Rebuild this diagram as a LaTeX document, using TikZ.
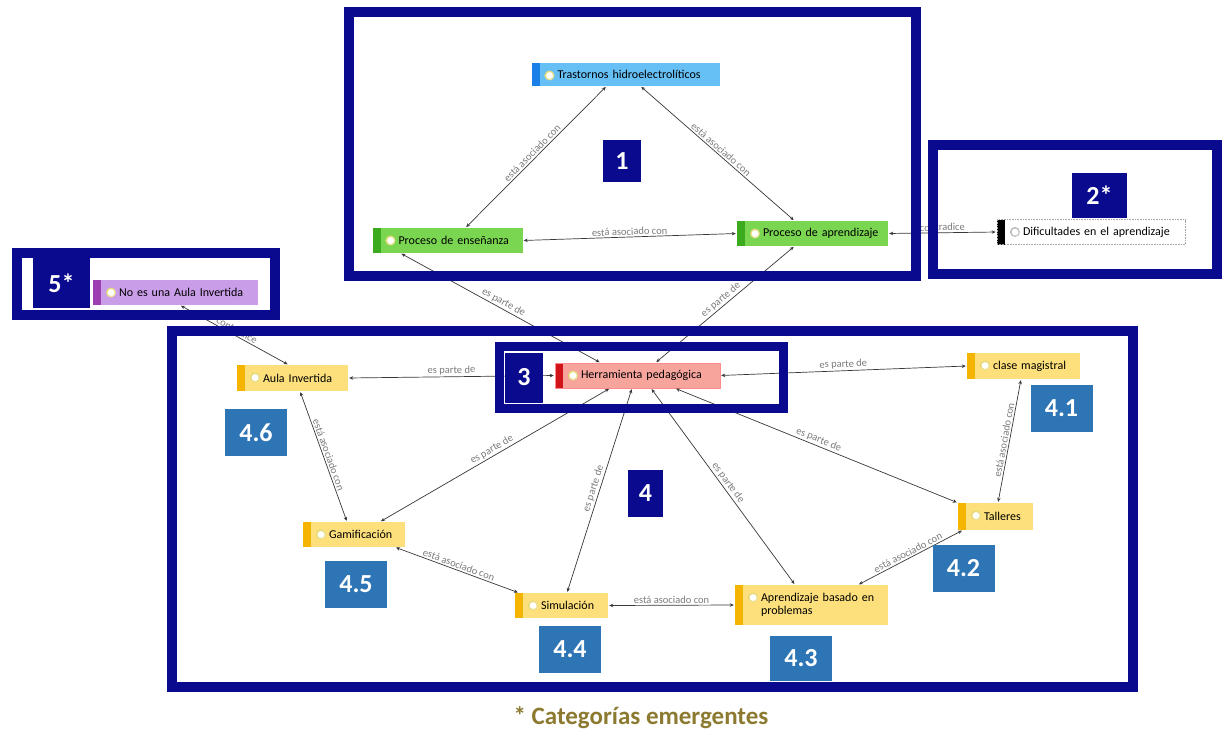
\documentclass[tikz,border=0pt]{standalone}
\usepackage{fontspec}
\setmainfont{Carlito}
\usetikzlibrary{arrows.meta}

\definecolor{framenavy}{HTML}{0A0A8E}
\definecolor{numblue}{HTML}{2E75B6}
\definecolor{trastfill}{HTML}{66BFF5}
\definecolor{trastbar}{HTML}{1A7FE6}
\definecolor{greenfill}{HTML}{7AD651}
\definecolor{greenbar}{HTML}{3BAA1F}
\definecolor{purplefill}{HTML}{C99DE8}
\definecolor{purplebar}{HTML}{9B3FB3}
\definecolor{salmonfill}{HTML}{F6A49C}
\definecolor{redbar}{HTML}{D0141A}
\definecolor{yellowfill}{HTML}{FDE07C}
\definecolor{yellowbar}{HTML}{F4B400}
\definecolor{captioncol}{HTML}{8C7A30}
\definecolor{linecol}{HTML}{383838}
\definecolor{labelcol}{HTML}{7C7C7C}
\definecolor{iconglow}{HTML}{E3D873}

% code text: every line starts after the colour bar and the icon
\newcommand\codetext[1]{\hangindent=26pt\hangafter=0\hyphenpenalty=10000\relax #1\par}

\tikzset{
  iconring/.initial=iconglow,
  code/.style n args={3}{rectangle, fill=#1, text width=#3, minimum width=#3,
    minimum height=25pt, inner xsep=0pt, inner ysep=2pt, align=left, text=black,
    font=\fontsize{12}{13}\selectfont,
    path picture={
      \fill[#2] (path picture bounding box.north west) rectangle
        ([xshift=8pt]path picture bounding box.south west);
      \shade[inner color=white, outer color=\pgfkeysvalueof{/tikz/iconring}]
        ([xshift=18pt,yshift=-12.5pt]path picture bounding box.north west) circle (5pt);
      \fill[white] ([xshift=18pt,yshift=-12.5pt]path picture bounding box.north west) circle (3.3pt);
    }},
  link/.style={draw=linecol, line width=0.7pt, shorten >=1pt, shorten <=1pt,
    arrows={Stealth[length=4pt,width=3.5pt]-Stealth[length=4pt,width=3.5pt]}},
  rel/.style={midway, sloped, above, font=\fontsize{10.5}{12}\selectfont,
    text=labelcol, inner sep=1.5pt},
  frame/.style={draw=framenavy, line width=10pt},
  tag/.style={fill=framenavy, text=white, inner sep=0pt,
    font=\fontsize{26}{28}\selectfont\bfseries},
  subtag/.style={tag, fill=numblue, minimum width=62pt, minimum height=47pt},
}

\begin{document}
\begin{tikzpicture}[x=1pt,y=-1pt]
\useasboundingbox[fill=white] (0,0) rectangle (1227,736);

% ---- codes ----
\node[code={trastfill}{trastbar}{188pt}, minimum height=23pt] (trast) at (625.5,74.5)
  {\codetext{Trastornos hidroelectrolíticos}};
\node[code={greenfill}{greenbar}{150pt}] (ens) at (447.5,240.5)
  {\codetext{Proceso de enseñanza}};
\node[code={greenfill}{greenbar}{151pt}] (apr) at (812.5,233.5)
  {\codetext{Proceso de aprendizaje}};
\node[code={white}{black}{188pt}, iconring=gray!60, draw=gray!70, densely dotted,
  line width=0.6pt] (dif) at (1091,232)
  {\codetext{Dificultades en el aprendizaje}};
\node[code={purplefill}{purplebar}{165pt}] (noes) at (175.5,292.5)
  {\codetext{No es una Aula Invertida}};
\node[code={salmonfill}{redbar}{165pt}, draw=red!45, line width=0.5pt] (herr) at (637.5,375.5)
  {\codetext{Herramienta pedagógica}};
\node[code={yellowfill}{yellowbar}{111pt}, minimum height=26pt] (aula) at (292.5,378)
  {\codetext{Aula Invertida}};
\node[code={yellowfill}{yellowbar}{113pt}, minimum height=26pt] (clase) at (1023.5,366)
  {\codetext{clase magistral}};
\node[code={yellowfill}{yellowbar}{102pt}] (gam) at (354,534.5)
  {\codetext{Gamificación}};
\node[code={yellowfill}{yellowbar}{93pt}] (sim) at (561.5,605.5)
  {\codetext{Simulación}};
\node[code={yellowfill}{yellowbar}{153pt}, minimum height=40pt] (apb) at (811.5,605)
  {\codetext{Aprendizaje basado en problemas}};
\node[code={yellowfill}{yellowbar}{75pt}, minimum height=27pt] (tal) at (995.5,516.5)
  {\codetext{Talleres}};

% ---- relations ----
\draw[link] ([xshift=-19pt]trast.south) -- ([xshift=18pt]ens.north)
  node[rel] {está asociado con};
\draw[link] ([xshift=15pt]trast.south) -- ([xshift=-18pt]apr.north)
  node[rel] {está asociado con};
\draw[link] (ens.east) -- (apr.west) node[rel] {está asociado con};
\draw[link] (apr.east) -- (dif.west) node[rel] {contradice};
\draw[link] ([xshift=-47pt]ens.south) -- ([xshift=-37pt]herr.north)
  node[rel] {es parte de};
\draw[link] ([xshift=-18pt]apr.south) -- ([xshift=18pt]herr.north)
  node[rel] {es parte de};
\draw[link] (herr.west) -- (aula.east) node[rel] {es parte de};
\draw[link] (herr.east) -- (clase.west) node[rel] {es parte de};
\draw[link] ([xshift=4.5pt]noes.south) -- ([xshift=-4pt]aula.north)
  node[rel] {contradice};
\draw[link] ([xshift=7.5pt]aula.south) -- ([xshift=-7pt]gam.north)
  node[rel] {está asociado con};
\draw[link] ([xshift=-27.5pt]herr.south) -- ([xshift=26pt]gam.north)
  node[rel] {es parte de};
\draw[link] ([xshift=-5.5pt]herr.south) -- ([xshift=5.5pt]sim.north)
  node[rel] {es parte de};
\draw[link] ([xshift=13.5pt]herr.south) -- ([xshift=-16.5pt]apb.north)
  node[rel] {es parte de};
\draw[link] ([xshift=37.5pt]herr.south) -- (tal.north west)
  node[rel] {es parte de};
\draw[link] ([xshift=-2.5pt]clase.south) -- ([xshift=2.5pt]tal.north)
  node[rel] {está asociado con};
\draw[link] ([xshift=5pt]tal.south west) -- ([xshift=46.5pt]apb.north)
  node[rel] {está asociado con};
\draw[link] ([xshift=41pt]gam.south) -- ([xshift=4pt]sim.north west)
  node[rel] {está asociado con};
\draw[link] (sim.east) -- (apb.west) node[rel] {está asociado con};

% ---- category frames ----
\draw[frame] (349,12) rectangle (916,276);
\draw[frame] (933,145) rectangle (1217,274);
\draw[frame] (17,253) rectangle (275,315);
\draw[frame] (172,331) rectangle (1133,687);
\draw[frame, line width=9pt] (499.5,346.5) rectangle (783.5,408.5);

% ---- category numbers ----
\node[tag, minimum width=38pt, minimum height=42pt] (n1) at (622,161) {1};
\node[tag, minimum width=55pt, minimum height=45pt] (n2) at (1099.5,195) {2*};
\node[tag, minimum width=57pt, minimum height=50pt] (n5) at (61.5,283) {5*};
\node[tag, minimum width=38pt, minimum height=50pt] (n3) at (524,377.5) {3};
\node[tag, minimum width=35pt, minimum height=47pt] (n4) at (645.5,493.5) {4};
\node[subtag] (n41) at (1061.5,408.5) {4.1};
\node[subtag] (n42) at (963.5,568.5) {4.2};
\node[subtag, minimum height=45pt] (n43) at (801,658.5) {4.3};
\node[subtag] (n44) at (570,649.5) {4.4};
\node[subtag] (n45) at (356,584.5) {4.5};
\node[subtag] (n46) at (256,432.5) {4.6};

% ---- legend ----
\node[font=\fontsize{25}{27}\selectfont\bfseries, text=captioncol] (legend) at (641,718)
  {* Categorías emergentes};
\end{tikzpicture}
\end{document}
